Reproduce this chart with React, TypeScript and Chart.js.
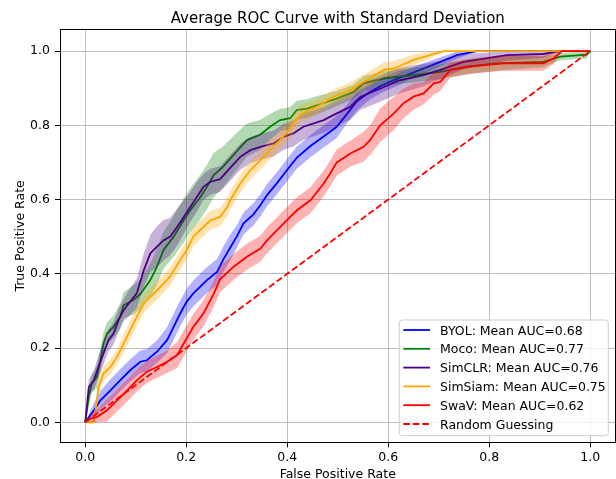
import React, { useEffect, useRef } from "react";
import { Chart, registerables } from "chart.js";

Chart.register(...registerables);

// ---------- data ----------
const modelNames = ["BYOL", "Moco", "SimCLR", "SimSiam", "SwaV"];
const meanAUC = [0.68, 0.77, 0.76, 0.75, 0.62];
const lineColors = ["#0000ff", "#008000", "#4b0082", "#ffa500", "#ff0000"];
const bandColors = [
  "rgba(0,0,255,0.3)",
  "rgba(0,128,0,0.3)",
  "rgba(75,0,130,0.3)",
  "rgba(255,165,0,0.3)",
  "rgba(255,0,0,0.3)",
];

const byolFpr = [0, 0.017, 0.03, 0.05, 0.069, 0.089, 0.109, 0.122, 0.142, 0.162, 0.175, 0.188, 0.201, 0.214, 0.241, 0.261, 0.274, 0.287, 0.3, 0.313, 0.333, 0.347, 0.36, 0.38, 0.4, 0.419, 0.446, 0.472, 0.498, 0.518, 0.538, 0.564, 0.591, 0.62, 0.637, 0.67, 0.703, 0.736, 0.776, 1.0];
const byolTpr = [0, 0.032, 0.059, 0.086, 0.113, 0.14, 0.163, 0.167, 0.19, 0.221, 0.257, 0.293, 0.325, 0.347, 0.383, 0.405, 0.44, 0.47, 0.5, 0.535, 0.56, 0.585, 0.612, 0.645, 0.68, 0.713, 0.744, 0.77, 0.796, 0.83, 0.865, 0.89, 0.91, 0.927, 0.935, 0.953, 0.971, 0.989, 1.0, 1.0];
const byolStd = [0, 0.02, 0.025, 0.03, 0.03, 0.03, 0.03, 0.03, 0.03, 0.035, 0.035, 0.035, 0.035, 0.035, 0.035, 0.035, 0.035, 0.035, 0.03, 0.03, 0.03, 0.03, 0.03, 0.03, 0.03, 0.03, 0.03, 0.03, 0.03, 0.025, 0.025, 0.02, 0.02, 0.02, 0.015, 0.015, 0.012, 0.01, 0, 0];

const mocoFpr = [0, 0.007, 0.013, 0.023, 0.03, 0.036, 0.043, 0.056, 0.069, 0.076, 0.096, 0.109, 0.129, 0.142, 0.155, 0.175, 0.195, 0.208, 0.228, 0.241, 0.254, 0.274, 0.3, 0.32, 0.347, 0.366, 0.386, 0.406, 0.419, 0.439, 0.459, 0.498, 0.531, 0.551, 0.591, 0.62, 0.65, 0.703, 0.756, 0.815, 0.907, 0.941, 0.993, 1.0];
const mocoTpr = [0, 0.068, 0.104, 0.122, 0.167, 0.212, 0.239, 0.257, 0.284, 0.315, 0.33, 0.345, 0.383, 0.419, 0.464, 0.5, 0.544, 0.571, 0.607, 0.634, 0.665, 0.69, 0.73, 0.76, 0.775, 0.796, 0.814, 0.819, 0.841, 0.845, 0.854, 0.872, 0.89, 0.913, 0.926, 0.931, 0.935, 0.944, 0.958, 0.967, 0.971, 0.985, 0.99, 1.0];
const mocoStd = [0, 0.02, 0.025, 0.03, 0.03, 0.03, 0.03, 0.03, 0.035, 0.035, 0.04, 0.04, 0.045, 0.05, 0.05, 0.055, 0.06, 0.06, 0.06, 0.06, 0.06, 0.055, 0.05, 0.045, 0.04, 0.035, 0.03, 0.03, 0.025, 0.025, 0.025, 0.02, 0.02, 0.02, 0.02, 0.02, 0.02, 0.02, 0.02, 0.02, 0.015, 0.01, 0.01, 0];

const simclrFpr = [0, 0.007, 0.017, 0.026, 0.036, 0.046, 0.056, 0.066, 0.076, 0.086, 0.102, 0.116, 0.129, 0.142, 0.155, 0.168, 0.182, 0.195, 0.208, 0.221, 0.234, 0.248, 0.267, 0.287, 0.307, 0.327, 0.347, 0.373, 0.393, 0.412, 0.432, 0.472, 0.498, 0.525, 0.545, 0.578, 0.62, 0.67, 0.703, 0.749, 0.835, 0.907, 0.941, 1.0];
const simclrTpr = [0, 0.095, 0.113, 0.149, 0.185, 0.221, 0.239, 0.275, 0.302, 0.32, 0.347, 0.41, 0.455, 0.473, 0.49, 0.5, 0.526, 0.553, 0.58, 0.607, 0.634, 0.648, 0.655, 0.685, 0.715, 0.733, 0.742, 0.751, 0.769, 0.778, 0.796, 0.814, 0.832, 0.85, 0.877, 0.895, 0.92, 0.935, 0.949, 0.971, 0.989, 0.992, 1.0, 1.0];
const simclrStd = [0, 0.02, 0.025, 0.03, 0.03, 0.03, 0.03, 0.03, 0.03, 0.035, 0.04, 0.045, 0.05, 0.055, 0.055, 0.05, 0.05, 0.045, 0.04, 0.04, 0.035, 0.035, 0.035, 0.035, 0.035, 0.035, 0.035, 0.035, 0.035, 0.035, 0.035, 0.035, 0.035, 0.035, 0.035, 0.035, 0.035, 0.03, 0.025, 0.02, 0.015, 0.01, 0, 0];

const simsiamFpr = [0, 0.017, 0.023, 0.026, 0.036, 0.05, 0.063, 0.076, 0.089, 0.102, 0.116, 0.129, 0.149, 0.168, 0.188, 0.201, 0.214, 0.234, 0.248, 0.267, 0.281, 0.287, 0.307, 0.327, 0.347, 0.366, 0.386, 0.406, 0.426, 0.459, 0.492, 0.525, 0.558, 0.591, 0.611, 0.65, 0.683, 0.71, 1.0];
const simsiamTpr = [0, 0.0, 0.059, 0.095, 0.131, 0.149, 0.176, 0.212, 0.248, 0.284, 0.32, 0.338, 0.365, 0.392, 0.437, 0.464, 0.5, 0.526, 0.544, 0.553, 0.58, 0.598, 0.643, 0.679, 0.706, 0.733, 0.76, 0.792, 0.83, 0.85, 0.877, 0.895, 0.922, 0.949, 0.953, 0.976, 0.989, 1.0, 1.0];
const simsiamStd = [0, 0, 0.02, 0.02, 0.02, 0.02, 0.02, 0.025, 0.025, 0.025, 0.025, 0.025, 0.025, 0.025, 0.025, 0.025, 0.025, 0.025, 0.025, 0.025, 0.025, 0.025, 0.025, 0.025, 0.025, 0.025, 0.025, 0.025, 0.025, 0.02, 0.02, 0.02, 0.02, 0.02, 0.02, 0.015, 0.01, 0, 0];

const swavFpr = [0, 0.01, 0.023, 0.043, 0.063, 0.083, 0.102, 0.122, 0.142, 0.162, 0.182, 0.195, 0.214, 0.234, 0.254, 0.267, 0.294, 0.32, 0.347, 0.36, 0.393, 0.419, 0.446, 0.472, 0.485, 0.498, 0.525, 0.551, 0.564, 0.584, 0.611, 0.63, 0.65, 0.67, 0.69, 0.703, 0.723, 0.762, 0.828, 0.907, 0.927, 0.944, 1.0];
const swavTpr = [0, 0.01, 0.014, 0.032, 0.059, 0.086, 0.113, 0.136, 0.149, 0.163, 0.181, 0.212, 0.257, 0.293, 0.345, 0.385, 0.419, 0.446, 0.468, 0.49, 0.536, 0.571, 0.598, 0.643, 0.67, 0.7, 0.724, 0.742, 0.76, 0.8, 0.832, 0.859, 0.877, 0.886, 0.913, 0.917, 0.949, 0.958, 0.967, 0.967, 0.98, 1.0, 1.0];
const swavStd = [0, 0.01, 0.02, 0.03, 0.03, 0.03, 0.03, 0.03, 0.03, 0.03, 0.035, 0.035, 0.035, 0.035, 0.035, 0.035, 0.035, 0.035, 0.035, 0.035, 0.035, 0.035, 0.035, 0.035, 0.035, 0.035, 0.035, 0.04, 0.04, 0.045, 0.045, 0.04, 0.035, 0.03, 0.03, 0.025, 0.02, 0.02, 0.02, 0.02, 0.015, 0, 0];

const randomFpr = [0, 1];
const randomTpr = [0, 1];
const randomLabel = "Random Guessing";

const tickValues = [0, 0.2, 0.4, 0.6, 0.8, 1.0];

const titleText = "Average ROC Curve with Standard Deviation";
const xLabelText = "False Positive Rate";
const yLabelText = "True Positive Rate";

const allFpr = [byolFpr, mocoFpr, simclrFpr, simsiamFpr, swavFpr];
const allTpr = [byolTpr, mocoTpr, simclrTpr, simsiamTpr, swavTpr];
const allStd = [byolStd, mocoStd, simclrStd, simsiamStd, swavStd];

const FONT = "'DejaVu Sans', 'Liberation Sans', sans-serif";
const BASE_SIZE = 12.5;
const TITLE_SIZE = 15;

function pts(xs: number[], ys: number[]) {
  return xs.map((x, i) => ({ x, y: ys[i] }));
}

const decorPlugin = {
  id: "decor",
  afterDraw(chart: any) {
    const { ctx, chartArea: a } = chart;
    ctx.save();
    // frame (spines)
    ctx.strokeStyle = "#000";
    ctx.lineWidth = 1;
    ctx.strokeRect(60.5, 29.5, 555, 413);

    // title
    ctx.fillStyle = "#000";
    ctx.font = `${TITLE_SIZE}px ${FONT}`;
    ctx.textAlign = "center";
    ctx.textBaseline = "alphabetic";
    ctx.fillText(titleText, (a.left + a.right) / 2, 22.7);

    // axis labels
    ctx.font = `${BASE_SIZE}px ${FONT}`;
    ctx.fillText(xLabelText, (a.left + a.right) / 2, 478.2);
    ctx.save();
    ctx.translate(24, (a.top + a.bottom) / 2);
    ctx.rotate(-Math.PI / 2);
    ctx.fillText(yLabelText, 0, 0);
    ctx.restore();

    // legend
    const bw = 209;
    const bh = 115.7;
    const lx = a.right - 7.2 - bw;
    const ly = a.bottom - 6.6 - bh;
    const r = 3;
    ctx.beginPath();
    ctx.moveTo(lx + r, ly);
    ctx.lineTo(lx + bw - r, ly);
    ctx.arcTo(lx + bw, ly, lx + bw, ly + r, r);
    ctx.lineTo(lx + bw, ly + bh - r);
    ctx.arcTo(lx + bw, ly + bh, lx + bw - r, ly + bh, r);
    ctx.lineTo(lx + r, ly + bh);
    ctx.arcTo(lx, ly + bh, lx, ly + bh - r, r);
    ctx.lineTo(lx, ly + r);
    ctx.arcTo(lx, ly, lx + r, ly, r);
    ctx.closePath();
    ctx.fillStyle = "rgba(255,255,255,0.8)";
    ctx.fill();
    ctx.strokeStyle = "#cccccc";
    ctx.lineWidth = 1;
    ctx.stroke();

    const labels = modelNames.map((n, i) => `${n}: Mean AUC=${meanAUC[i].toFixed(2)}`);
    labels.push(randomLabel);
    const colors = [...lineColors, "#ff0000"];
    ctx.textAlign = "left";
    ctx.textBaseline = "alphabetic";
    ctx.font = `${BASE_SIZE}px ${FONT}`;
    labels.forEach((lab, i) => {
      const cy = ly + 10 + i * 18.8;
      ctx.beginPath();
      ctx.strokeStyle = colors[i];
      ctx.lineWidth = 1.8;
      if (i === labels.length - 1) ctx.setLineDash([6.6, 2.9]);
      else ctx.setLineDash([]);
      ctx.moveTo(lx + 4, cy);
      ctx.lineTo(lx + 30.7, cy);
      ctx.stroke();
      ctx.setLineDash([]);
      ctx.fillStyle = "#000";
      ctx.fillText(lab, lx + 40.7, cy + 4.5);
    });
    ctx.restore();
  },
};

export default function App() {
  const canvasRef = useRef<HTMLCanvasElement | null>(null);

  useEffect(() => {
    document.body.style.margin = "0";
    const canvas = canvasRef.current;
    if (!canvas) return;

    const datasets: any[] = [];
    let order = 100;
    for (let i = 0; i < modelNames.length; i++) {
      const xs = allFpr[i];
      const m = allTpr[i];
      const s = allStd[i];
      const upper = m.map((v, k) => Math.min(1, v + s[k]));
      const lower = m.map((v, k) => Math.max(0, v - s[k]));
      datasets.push({
        label: modelNames[i],
        data: pts(xs, m),
        borderColor: lineColors[i],
        borderWidth: 1.8,
        pointRadius: 0,
        fill: false,
        tension: 0,
        order: order--,
      });
      datasets.push({
        label: modelNames[i] + " upper",
        data: pts(xs, upper),
        borderColor: "transparent",
        borderWidth: 0,
        backgroundColor: bandColors[i],
        pointRadius: 0,
        fill: "+1",
        tension: 0,
        order: order--,
      });
      datasets.push({
        label: modelNames[i] + " lower",
        data: pts(xs, lower),
        borderColor: "transparent",
        borderWidth: 0,
        pointRadius: 0,
        fill: false,
        tension: 0,
        order: order--,
      });
    }
    datasets.push({
      label: randomLabel,
      data: pts(randomFpr, randomTpr),
      borderColor: "#ff0000",
      borderWidth: 1.8,
      borderDash: [6.6, 2.9],
      pointRadius: 0,
      fill: false,
      order: 0,
    });

    const setTicks = (scale: any) => {
      scale.ticks = tickValues.map((v) => ({ value: v }));
    };

    const chart = new Chart(canvas, {
      type: "line",
      data: { datasets },
      options: {
        animation: false,
        responsive: false,
        devicePixelRatio: 1,
        layout: { padding: { top: 29.5, left: 0, right: 0.5, bottom: 0 } },
        plugins: {
          legend: { display: false },
          title: { display: false },
          tooltip: { enabled: false },
        },
        scales: {
          x: {
            type: "linear",
            min: -0.05,
            max: 1.05,
            afterBuildTicks: setTicks,
            afterFit: (s: any) => {
              s.height = 479 - 442.3;
            },
            border: { display: false },
            grid: {
              color: "#bdbdbd",
              lineWidth: 1,
              tickColor: "#000",
              tickLength: 5,
              tickWidth: 1,
            },
            ticks: {
              color: "#000",
              font: { family: FONT, size: BASE_SIZE },
              padding: 3,
              maxRotation: 0,
              autoSkip: false,
              callback: (v: any) => Number(v).toFixed(1),
            },
          },
          y: {
            type: "linear",
            min: -0.054,
            max: 1.058,
            afterBuildTicks: setTicks,
            afterFit: (s: any) => {
              s.width = 60;
            },
            border: { display: false },
            grid: {
              color: "#bdbdbd",
              lineWidth: 1,
              tickColor: "#000",
              tickLength: 5,
              tickWidth: 1,
            },
            ticks: {
              color: "#000",
              font: { family: FONT, size: BASE_SIZE },
              padding: 5,
              autoSkip: false,
              callback: (v: any) => Number(v).toFixed(1),
            },
          },
        },
      },
      plugins: [decorPlugin],
    });

    return () => {
      chart.destroy();
    };
  }, []);

  return (
    <canvas
      ref={canvasRef}
      width={616}
      height={479}
      style={{ display: "block", width: 616, height: 479 }}
    />
  );
}
